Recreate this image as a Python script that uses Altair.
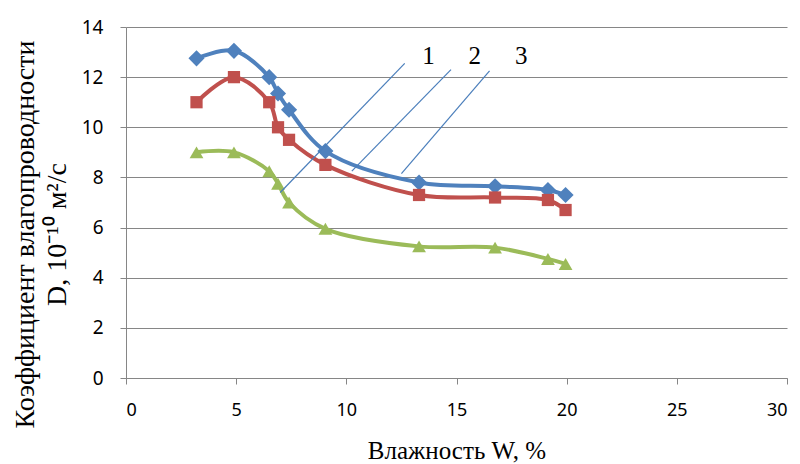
import altair as alt
import pandas as pd

# Moisture content W, %
w = [3.2, 4.9, 6.5, 6.9, 7.4, 9.05, 13.3, 16.75, 19.15, 19.95]
# Moisture conductivity D, 1e-10 m2/s
d1 = [12.75, 13.05, 12.0, 11.35, 10.7, 9.05, 7.8, 7.65, 7.5, 7.3]
d2 = [11.0, 12.0, 11.0, 10.0, 9.5, 8.5, 7.3, 7.2, 7.1, 6.7]
d3 = [9.0, 9.0, 8.25, 7.75, 7.0, 5.95, 5.25, 5.2, 4.75, 4.55]

series_names = ["s1", "s2", "s3"]
series_colors = ["#4f81bd", "#c0504d", "#9bbb59"]
series_shapes = ["diamond", "square", "triangle-up"]
series_sizes = [260, 150, 190]

# leader lines for labels 1, 2, 3 (data coordinates)
lab_text = ["1", "2", "3"]
lab_x = [13.45, 15.55, 17.65]
lab_y = [12.85, 12.85, 12.85]
lead_x1 = [7.0, 10.25, 12.5]
lead_y1 = [7.4, 8.25, 8.15]
lead_x2 = [12.65, 14.75, 16.5]
lead_y2 = [12.55, 12.3, 12.25]

rows = []
for name, vals, sz in zip(series_names, [d1, d2, d3], series_sizes):
    for xv, yv in zip(w, vals):
        rows.append({"W": xv, "D": yv, "s": name, "sz": sz})
df = pd.DataFrame(rows)

lead_df = pd.DataFrame({"x": lead_x1, "y": lead_y1, "x2": lead_x2, "y2": lead_y2})
lab_df = pd.DataFrame({"x": lab_x, "y": lab_y, "t": lab_text})

xs = alt.Scale(domain=[0, 30], nice=False)
ys = alt.Scale(domain=[0, 14], nice=False)
col = alt.Color("s:N", scale=alt.Scale(domain=series_names, range=series_colors), legend=None)

x_axis = alt.Axis(values=list(range(0, 31, 5)), grid=False, title="Влажность W, %",
                  labelPadding=17, titlePadding=19, tickSize=6, titleFontSize=25,
                  labelFontSize=18)
y_axis = alt.Axis(values=list(range(0, 15, 2)), grid=True,
                  title=["Коэффициент влагопроводности", "D, 10⁻¹⁰ м²/с"],
                  labelPadding=17, tickSize=6, titleX=-101, titleY=207,
                  titleAngle=270, titleAlign="center", titleBaseline="middle",
                  titleLineHeight=32, titleFontSize=28, labelFontSize=19)

base = alt.Chart(df)
lines = base.mark_line(strokeWidth=4, interpolate="catmull-rom").encode(
    x=alt.X("W:Q", scale=xs, axis=x_axis),
    y=alt.Y("D:Q", scale=ys, axis=y_axis),
    color=col,
    detail="s:N",
)
pts = base.mark_point(filled=True, opacity=1).encode(
    x=alt.X("W:Q", scale=xs),
    y=alt.Y("D:Q", scale=ys),
    color=col,
    shape=alt.Shape("s:N", scale=alt.Scale(domain=series_names, range=series_shapes), legend=None),
    size=alt.Size("sz:Q", scale=None, legend=None),
)
leads = alt.Chart(lead_df).mark_rule(color="#4a7ebb", strokeWidth=1.2).encode(
    x=alt.X("x:Q", scale=xs), y=alt.Y("y:Q", scale=ys),
    x2="x2:Q", y2="y2:Q",
)
labs = alt.Chart(lab_df).mark_text(font="Liberation Serif", fontSize=25, color="black",
                                   align="left", baseline="middle").encode(
    x=alt.X("x:Q", scale=xs), y=alt.Y("y:Q", scale=ys), text="t:N",
)

chart = alt.layer(lines, pts, leads, labs).properties(
    width=661, height=351,
    autosize=alt.AutoSizeParams(type="none"),
    padding={"left": 118, "top": 19, "right": 5, "bottom": 86},
    background="white",
).configure_view(stroke=None).configure_axis(
    domainColor="#868686", tickColor="#868686", gridColor="#868686", gridWidth=1,
    labelFont="Noto Sans", labelColor="#000000",
    titleFont="Liberation Serif", titleFontWeight="normal", titleColor="#000000",
)

chart.save("out.html", embed_options={"renderer": "svg", "actions": False})
